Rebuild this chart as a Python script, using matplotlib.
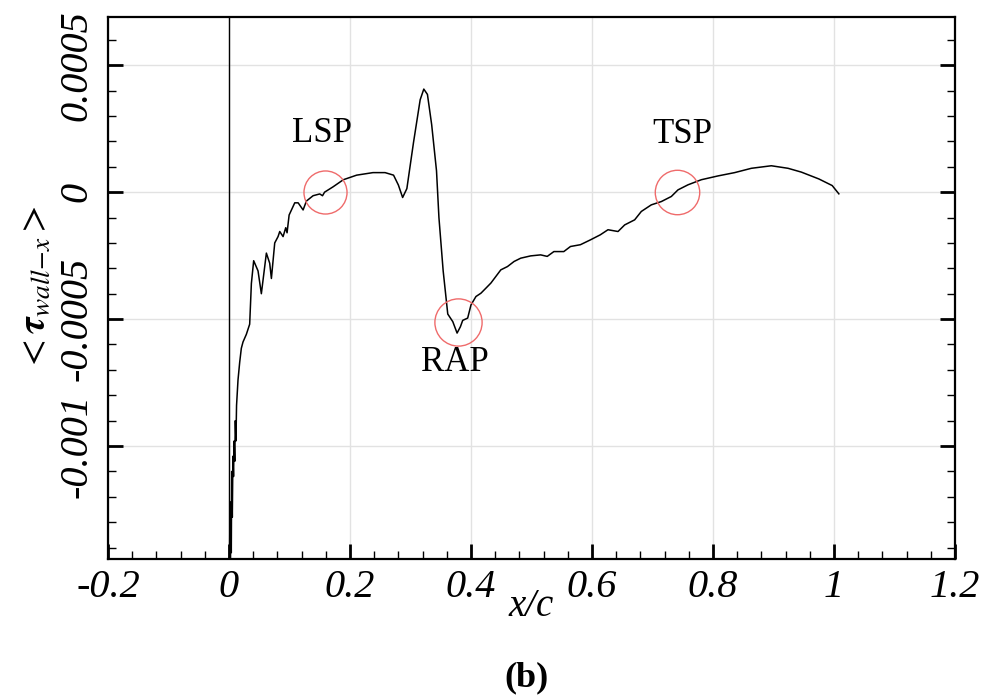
import matplotlib
matplotlib.use('Agg')
import matplotlib.pyplot as plt
from matplotlib.ticker import MultipleLocator

plt.rcParams['axes.unicode_minus'] = False
plt.rcParams['mathtext.fontset'] = 'stix'

# wall shear stress along the chord
x_c = [0.0005, 0.0015, 0.0022, 0.003, 0.0038, 0.0045, 0.0055, 0.0065, 0.0075, 0.0085,
       0.0095, 0.0105, 0.0115, 0.0125, 0.0149, 0.0177, 0.0204, 0.0232, 0.0287, 0.0342,
       0.037, 0.0408, 0.048, 0.0535, 0.0618, 0.0673, 0.0701, 0.0756, 0.0811, 0.0839,
       0.0894, 0.0938, 0.096, 0.0994, 0.1087, 0.1143, 0.1225, 0.128, 0.139, 0.150,
       0.1546, 0.158, 0.172, 0.189, 0.211, 0.238, 0.258, 0.272, 0.280, 0.287,
       0.294, 0.305, 0.316, 0.322, 0.328, 0.335, 0.343, 0.347, 0.354, 0.3616,
       0.3699, 0.377, 0.3825, 0.3863, 0.3945, 0.400, 0.4082, 0.4164, 0.4247, 0.4329,
       0.4411, 0.4493, 0.4603, 0.4712, 0.4822, 0.4986, 0.5151, 0.526, 0.537, 0.5534,
       0.5644, 0.5808, 0.5973, 0.6137, 0.6264, 0.643, 0.654, 0.6705, 0.6815, 0.698,
       0.7146, 0.7311, 0.7421, 0.7587, 0.7807, 0.8083, 0.8358, 0.8634, 0.8964, 0.924,
       0.946, 0.975, 0.997, 1.008]
tau = [-0.0016, -0.00128, -0.0016, -0.00122, -0.00142, -0.00110, -0.00128, -0.00104, -0.00112, -0.00098,
       -0.00106, -0.00090, -0.00098, -0.00084, -0.00074, -0.00067, -0.000615, -0.00059, -0.00056, -0.00052,
       -0.00036, -0.00027, -0.00031, -0.00040, -0.00024, -0.00028, -0.00034, -0.00020, -0.000175, -0.000155,
       -0.000175, -0.00014, -0.00016, -0.00009, -0.000042, -0.000042, -0.00007, -0.000035, -0.000014, -0.000007,
       -0.000014, 0.0, 0.000021, 0.000049, 0.000067, 0.000077, 0.000077, 0.000067, 0.000028, -0.000021,
       0.000014, 0.000196, 0.000364, 0.000406, 0.000385, 0.000266, 0.000084, -0.0001, -0.00031, -0.00048,
       -0.00051, -0.000555, -0.00053, -0.000505, -0.000496, -0.000444, -0.000411, -0.000398, -0.000378, -0.000358,
       -0.000332, -0.000306, -0.000293, -0.000273, -0.00026, -0.000251, -0.000247, -0.000253, -0.000234, -0.000234,
       -0.000214, -0.000207, -0.000188, -0.000168, -0.000148, -0.000155, -0.000129, -0.000109, -0.000076, -0.00005,
       -0.000037, -0.000017, 0.000009, 0.000029, 0.000049, 0.000064, 0.000077, 0.000094, 0.000104, 0.000094,
       0.000079, 0.000052, 0.000026, -0.0000066]

# marked points: name, circle centre, label position, circle size (pt)
pt_names = ['LSP', 'RAP', 'TSP']
pt_x = [0.158, 0.378, 0.74]
pt_y = [0.0, -0.000513, 0.0]
lab_x = [0.153, 0.374, 0.749]
lab_y = [0.00023, -0.00067, 0.000228]
pt_size = [31, 34, 32]

xticks = [-0.2, 0, 0.2, 0.4, 0.6, 0.8, 1.0, 1.2]
xlabels = ['-0.2', '0', '0.2', '0.4', '0.6', '0.8', '1', '1.2']
yticks = [-0.001, -0.0005, 0, 0.0005]
ylabels = ['-0.001', '-0.0005', '0', '0.0005']

fig = plt.figure(figsize=(9.87, 6.96), dpi=100)
ax = fig.add_axes([0.1094, 0.1968, 0.8582, 0.7788])

ax.axvline(0, color='black', lw=1.0, zorder=2)
ax.plot(x_c, tau, color='black', lw=1.1, zorder=3)

for i in range(len(pt_names)):
    ax.plot(pt_x[i], pt_y[i], 'o', ms=pt_size[i], mfc='none', mec='#ef6b6b', mew=1.0, zorder=4)
    ax.text(lab_x[i], lab_y[i], pt_names[i], ha='center', va='center',
            fontsize=25, family='Liberation Serif')

ax.set_xlim(-0.2, 1.2)
ax.set_ylim(-0.001445, 0.00069)
ax.set_xticks(xticks)
ax.set_xticklabels(xlabels, family='Liberation Serif', style='italic', fontsize=29)
ax.set_yticks(yticks)
ax.set_yticklabels(ylabels, family='Liberation Serif', style='italic', fontsize=29,
                   rotation=90, va='center')
ax.xaxis.set_minor_locator(MultipleLocator(0.04))
ax.yaxis.set_minor_locator(MultipleLocator(0.0001))
ax.tick_params(which='major', direction='in', length=11, width=2, right=True, top=False)
ax.tick_params(which='minor', direction='in', length=6, width=1, right=True, top=False)
ax.tick_params(axis='x', pad=7)
ax.tick_params(axis='y', pad=9)
ax.grid(True, which='major', color='#e2e2e2', lw=1.0, zorder=0)
for s in ax.spines.values():
    s.set_linewidth(1.6)

ax.set_ylabel(r'$<\boldsymbol{\tau}_{wall\mathrm{-}x}>$', fontsize=28)
ax.yaxis.set_label_coords(-0.065, 0.5)
fig.text(531 / 987, 1 - 606 / 696, 'x/c', ha='center', va='center',
         family='Liberation Serif', style='italic', fontsize=28)
fig.text(527 / 987, 1 - 678 / 696, '(b)', ha='center', va='center',
         family='Liberation Serif', weight='bold', fontsize=26)

fig.savefig('out.png', dpi=100)
